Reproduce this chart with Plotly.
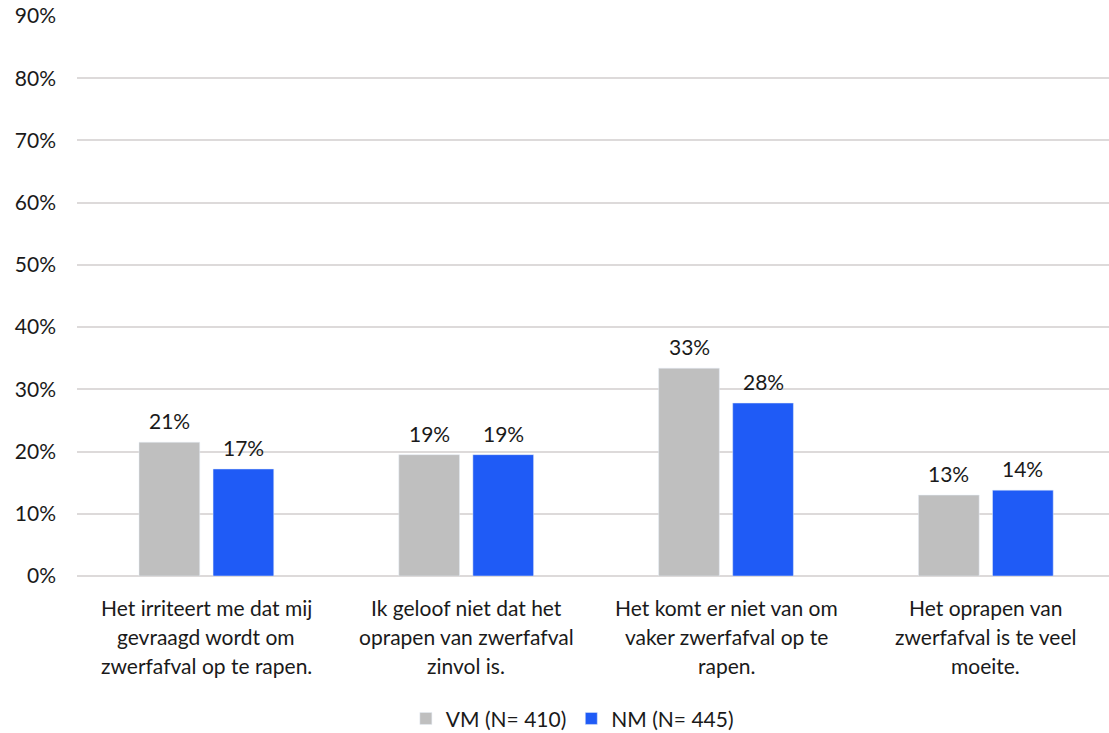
import plotly.graph_objects as go

categories = ["Het irriteert me dat mij gevraagd wordt om zwerfafval op te rapen.",
              "Ik geloof niet dat het oprapen van zwerfafval zinvol is.",
              "Het komt er niet van om vaker zwerfafval op te rapen.",
              "Het oprapen van zwerfafval is te veel moeite."]
category_lines = [["Het irriteert me dat mij", "gevraagd wordt om", "zwerfafval op te rapen."],
                  ["Ik geloof niet dat het", "oprapen van zwerfafval", "zinvol is."],
                  ["Het komt er niet van om", "vaker zwerfafval op te", "rapen."],
                  ["Het oprapen van", "zwerfafval is te veel", "moeite."]]
vm_values = [21.5, 19.5, 33.4, 13.0]
nm_values = [17.2, 19.5, 27.8, 13.8]
vm_labels = ["21%", "19%", "33%", "13%"]
nm_labels = ["17%", "19%", "28%", "14%"]
series_names = ["VM (N= 410)", "NM (N= 445)"]
y_ticks = [0, 10, 20, 30, 40, 50, 60, 70, 80, 90]

FONT = "Lato"
FS = 21
TXT = "#1a1a1a"
W, H = 1109, 733
ML, MR, MT, MB = 77, 0, 16, 157
BARGAP = 0.43
X_RANGE = [-0.498, 3.474]

fig = go.Figure()
fig.add_trace(go.Bar(x=categories, y=vm_values, name=series_names[0], marker_color="#BFBFBF"))
fig.add_trace(go.Bar(x=categories, y=nm_values, name=series_names[1], marker_color="#1F5BF6"))

annotations = []
for cat, lines in zip(categories, category_lines):
    for i, line in enumerate(lines):
        annotations.append(dict(x=cat, xref="x", y=0, yref="paper", yanchor="middle",
                                yshift=-31 - 29 * i, text=line, showarrow=False,
                                font=dict(size=FS, color=TXT, family=FONT)))

# value labels above bars, shifted to the bar centres of the grouped layout
cat_px = (W - ML - MR) / (X_RANGE[1] - X_RANGE[0])
slot_px = cat_px * (1 - BARGAP) / 2
for vals, labs, sign in ((vm_values, vm_labels, -1), (nm_values, nm_labels, 1)):
    for cat, v, lab in zip(categories, vals, labs):
        annotations.append(dict(x=cat, xref="x", y=v, yref="y", yanchor="bottom",
                                xshift=sign * slot_px / 2, yshift=7, text=lab,
                                showarrow=False,
                                font=dict(size=FS, color=TXT, family=FONT)))

fig.update_layout(
    width=W, height=H,
    margin=dict(l=ML, r=MR, t=MT, b=MB, autoexpand=False),
    plot_bgcolor="white", paper_bgcolor="white",
    barmode="group", bargap=BARGAP, bargroupgap=0.18,
    font=dict(family=FONT, size=FS, color=TXT),
    xaxis=dict(showticklabels=False, showline=False, ticks="", automargin=False,
               range=X_RANGE),
    yaxis=dict(range=[0, 90], tickvals=y_ticks, ticktext=[f"{v}%" for v in y_ticks],
               showgrid=True, gridcolor="#DDDADA", gridwidth=2, zeroline=True,
               zerolinecolor="#DDDADA", zerolinewidth=2, ticks="", ticklabelstandoff=20,
               automargin=False,
               tickfont=dict(size=FS, color=TXT, family=FONT)),
    legend=dict(orientation="h", x=0.48, xanchor="center", y=-0.255, yanchor="middle",
                font=dict(size=FS, family=FONT, color=TXT), itemwidth=30,
                traceorder="normal"),
    annotations=annotations,
)
fig.write_html("out.html")
